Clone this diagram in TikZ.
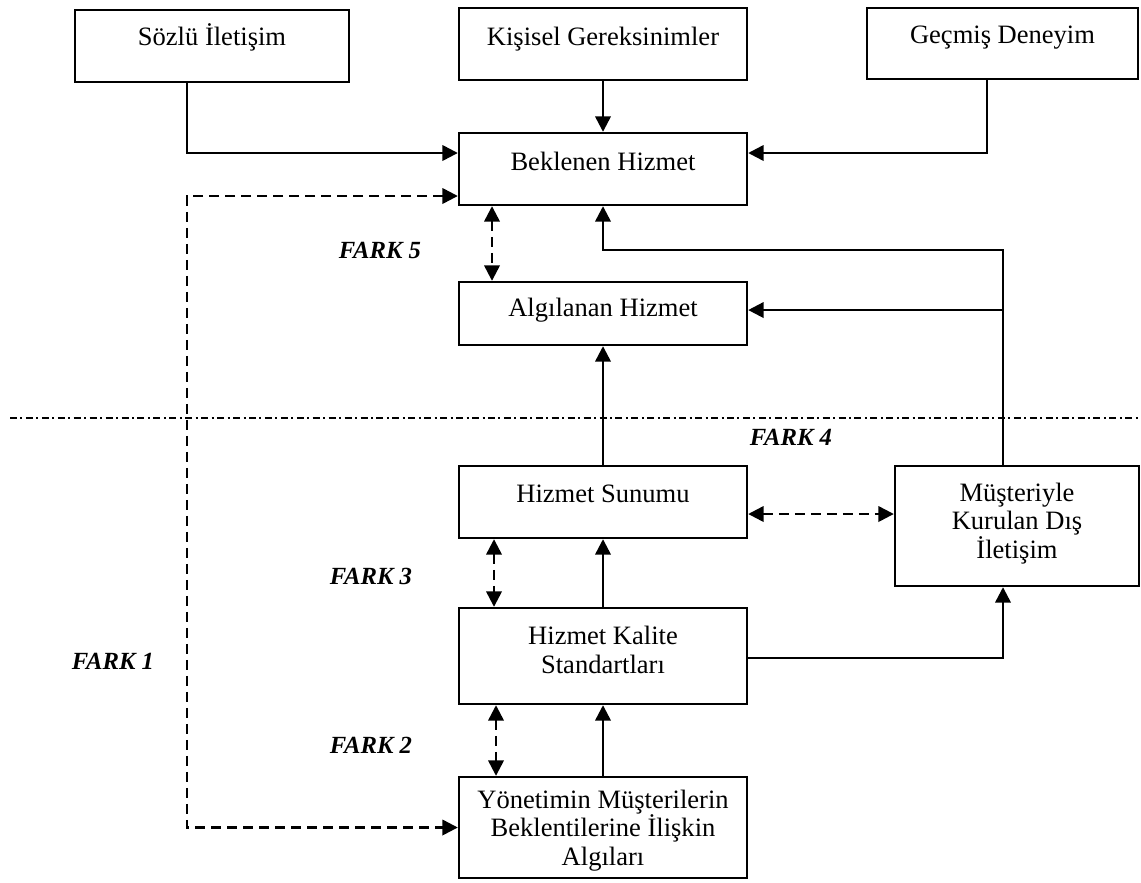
\documentclass[tikz,border=0pt]{standalone}
\usepackage{fontspec}
\setmainfont{Liberation Serif}
\usetikzlibrary{arrows.meta}
\begin{document}
\begin{tikzpicture}[x=0.75pt,y=-0.75pt,
  box/.style={draw,line width=1.8pt,rectangle,align=center,inner sep=0pt,
    font=\fontsize{19.9}{21.3}\selectfont},
  tb/.style 2 args={text height=#1,text depth=#2},
  gap/.style={font=\fontsize{18.5}{20}\selectfont\bfseries\itshape},
  conn/.style={line width=1.8pt},
  arr/.style={conn,-{Triangle[length=11.5pt,width=11.5pt]}},
  darr/.style={conn,dash pattern=on 7.5pt off 4.5pt,
    {Triangle[length=11.5pt,width=11.5pt]}-{Triangle[length=11.5pt,width=11.5pt]}},
  divider/.style={line width=1.2pt,dash pattern=on 5.25pt off 2.6pt on 1.5pt off 2.6pt}
]
\useasboundingbox (0,0) rectangle (1141,882);

% boxes
\node[box,tb={9.25pt}{10.75pt},minimum width=205.5pt,minimum height=54pt] (soz) at (212,46) {Sözlü İletişim};
\node[box,tb={10.75pt}{9.25pt},minimum width=216pt,minimum height=54pt] (kis) at (603,44) {Kişisel Gereksinimler};
\node[box,tb={10pt}{10pt},minimum width=203.25pt,minimum height=53.25pt] (gec) at (1002.5,43.5) {Geçmiş Deneyim};
\node[box,tb={10.75pt}{9.25pt},minimum width=216pt,minimum height=54pt] (bek) at (603,169) {Beklenen Hizmet};
\node[box,tb={12.6pt}{7.4pt},minimum width=216pt,minimum height=47.25pt] (alg) at (603,313.5) {Algılanan Hizmet};
\node[box,tb={10pt}{10pt},minimum width=216pt,minimum height=54pt] (sun) at (603,502) {Hizmet Sunumu};
\node[box,tb={25.5pt}{0pt},minimum width=216pt,minimum height=72pt] (kal) at (603,656) {Hizmet Kalite\\Standartları};
\node[box,tb={48pt}{0pt},minimum width=183pt,minimum height=90pt] (mus) at (1017,526) {Müşteriyle\\Kurulan Dış\\İletişim};
\node[box,tb={56.25pt}{0pt},minimum width=216pt,minimum height=75.75pt] (yon) at (603,827.5)
  {Yönetimin Müşterilerin\\Beklentilerine İlişkin\\Algıları};

% gap labels
\node[gap] (f5) at (380,250) {FARK 5};
\node[gap] (f4) at (791,437) {FARK 4};
\node[gap] (f3) at (371,576) {FARK 3};
\node[gap] (f2) at (371,745) {FARK 2};
\node[gap] (f1) at (113,661) {FARK 1};

% company / customer divider
\coordinate (dl) at (10,418);
\coordinate (dr) at (1141,418);
\draw[divider] (dl) -- (dr);

% inputs to the expected service
\draw[arr] ([xshift=-18.75pt]soz.south) |- ([yshift=12pt]bek.west);
\draw[arr] (kis) -- (bek);
\draw[arr] ([xshift=-11.6pt]gec.south) |- ([yshift=12pt]bek.east);

% external communication feedback
\coordinate (loop) at (1003,250);
\draw[arr] ([xshift=-10.5pt]mus.north) -- (loop) -| (bek.south);
\draw[arr] ([yshift=2.6pt]alg.east -| loop) -- ([yshift=2.6pt]alg.east);

% delivery chain
\draw[arr] (sun) -- (alg);
\draw[arr] (kal) -- (sun);
\draw[arr] (yon) -- (kal);
\draw[arr] ([yshift=-1.5pt]kal.east) -| ([xshift=-10.5pt]mus.south);

% gaps
\coordinate (g1) at (187,500);
\draw[darr] ([yshift=-20.25pt]bek.west) -| (g1) |- (yon.west);
\draw[darr] ([xshift=-83.25pt]bek.south) -- ([xshift=-83.25pt]alg.north);
\draw[darr] ([xshift=-81.75pt]sun.south) -- ([xshift=-81.75pt]kal.north);
\draw[darr] ([xshift=-80.25pt]kal.south) -- ([xshift=-80.25pt]yon.north);
\draw[darr] ([yshift=-9pt]sun.east) -- ([yshift=-9pt]sun.east -| mus.west);
\end{tikzpicture}
\end{document}
